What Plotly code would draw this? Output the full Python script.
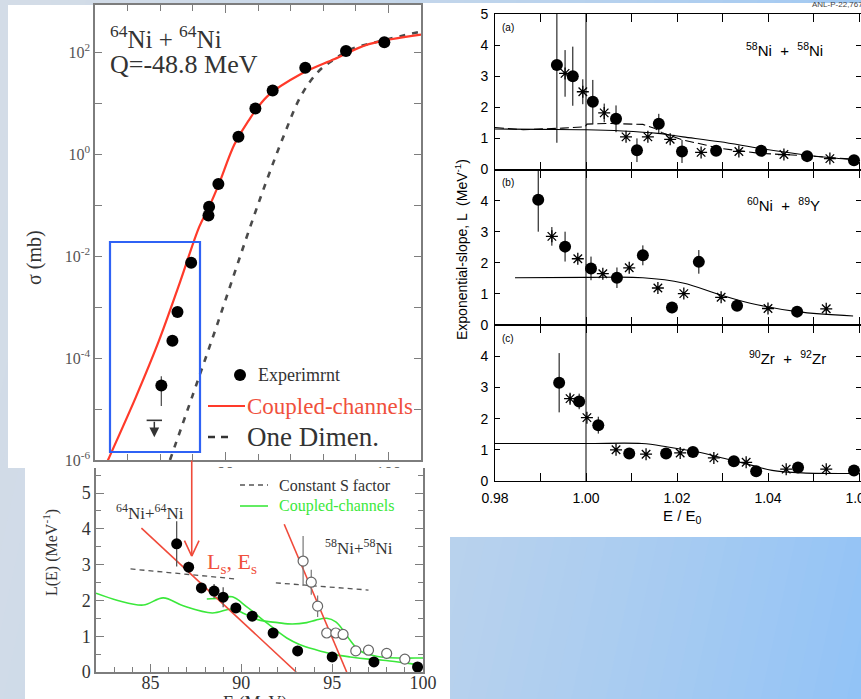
import math
import plotly.graph_objects as go

W, H = 861, 699
SERIF = "Liberation Serif, Times New Roman, serif"
SANS = "Liberation Sans, Arial, Helvetica, sans-serif"

# ---------------- 64Ni + 64Ni excitation function (top left) ----------------
exc_E = [99.75, 97.4, 94.9, 92.9, 91.84, 90.8, 89.57, 89.0, 88.96, 87.9, 87.06, 86.75, 86.07]
exc_sigma = [158, 106, 50, 17.8, 7.9, 2.2, 0.26, 0.093, 0.063, 0.0074, 8.0e-4, 2.2e-4, 2.9e-5]
exc_err_up = [0, 0, 0, 0, 0, 0, 0, 0, 0, 0, 0, 0, 1.5e-5]
exc_err_dn = [0, 0, 0, 0, 0, 0, 0, 0, 0, 0, 0, 0, 1.75e-5]
limit_E = 85.64
limit_sigma = 6.0e-6

cc_E = [82.5, 82.8, 84.5, 85.9, 87.2, 88.4, 89.0, 89.6, 90.55, 91.4, 92.6, 94.66, 96.7, 98.8, 102.0]
cc_sigma = [6.0e-7, 1.0e-6, 1.7e-5, 2.1e-4, 3.0e-3, 3.8e-2, 9.3e-2, 0.26, 1.55, 4.5, 14.0, 38, 74, 145, 224]

od_E = [86.6, 88.0, 89.5, 91.5, 92.6, 93.6, 94.66, 95.7, 96.7, 97.7, 99.75, 102.0]
od_sigma = [1.0e-6, 1.9e-5, 4.6e-4, 3.6e-2, 0.35, 2.4, 14.5, 42, 74, 115, 174, 257]

# ---------------- L(E) slopes (bottom left) ----------------
ni64_E = [86.44, 87.1, 87.8, 88.5, 89.0, 89.7, 90.6, 91.75, 93.1, 95.0, 97.3, 99.7]
ni64_L = [3.58, 2.93, 2.35, 2.26, 2.09, 1.79, 1.56, 1.09, 0.59, 0.42, 0.28, 0.14]
ni64_err = [0.63, 0.15, 0, 0.2, 0.28, 0, 0, 0, 0, 0, 0, 0]

ni58_E = [93.4, 93.85, 94.2, 94.7, 95.2, 95.6, 96.3, 97.0, 98.0, 99.0]
ni58_L = [3.1, 2.51, 1.84, 1.09, 1.09, 1.05, 0.59, 0.61, 0.52, 0.36]
ni58_err = [0.7, 0.35, 0.3, 0, 0, 0, 0, 0, 0, 0]

fit64_E = [84.5, 93.02]
fit64_L = [4.02, 0.0]
fit58_E = [92.36, 95.8]
fit58_L = [4.13, 0.0]

constS64_E = [83.9, 89.7]
constS64_L = [2.88, 2.6]
constS58_E = [91.9, 97.0]
constS58_L = [2.49, 2.29]

green64_E = [82.0, 83.2, 84.6, 85.7, 86.8, 88.4, 89.5, 90.2, 91.0, 92.0, 92.8, 93.6, 94.1, 94.7, 95.2, 95.6, 96.0, 96.5, 97.2, 97.8, 98.8, 99.8, 100.0]
green64_L = [2.2, 2.0, 1.87, 2.07, 1.85, 1.65, 1.76, 1.62, 1.45, 1.38, 1.34, 1.38, 1.45, 1.5, 1.4, 1.17, 0.88, 0.6, 0.47, 0.41, 0.39, 0.39, 0.39]
green58_E = [88.1, 88.8, 89.5, 90.3, 91.4, 92.5, 93.2, 94.1, 95.0, 96.0, 97.0, 97.8, 98.8, 99.8]
green58_L = [2.04, 2.06, 2.1, 1.82, 1.37, 0.95, 0.77, 0.62, 0.5, 0.42, 0.36, 0.33, 0.27, 0.2]

arrow_E = 87.27
arrow_L = 3.24

# ---------------- Exponential slopes vs E/E0 (right) ----------------
a_circ_x = [0.9936, 0.9971, 1.0015, 1.0066, 1.0112, 1.0160, 1.0211, 1.0286, 1.0385, 1.0486, 1.0589]
a_circ_y = [3.36, 3.0, 2.18, 1.63, 0.62, 1.47, 0.58, 0.6, 0.6, 0.43, 0.3]
a_circ_e = [2.5, 0.95, 0.7, 0.43, 0.38, 0.32, 0.37, 0, 0, 0, 0]
a_star_x = [0.9954, 0.9993, 1.0040, 1.0088, 1.0136, 1.0185, 1.0253, 1.0336, 1.0435, 1.0536]
a_star_y = [3.09, 2.5, 1.82, 1.05, 1.05, 0.97, 0.55, 0.58, 0.48, 0.35]
a_star_e = [0.75, 0.4, 0.3, 0, 0, 0, 0, 0, 0, 0]
a_solid_x = [0.98, 0.99, 1.0, 1.008, 1.0158, 1.0213, 1.0295, 1.0385, 1.0486, 1.0587]
a_solid_y = [1.3, 1.29, 1.28, 1.24, 1.16, 1.05, 0.89, 0.67, 0.46, 0.32]
a_dash_x = [0.98, 0.9862, 0.9949, 0.9998, 1.0002, 1.0053, 1.0125, 1.0150, 1.0169, 1.0213, 1.0295, 1.0382, 1.0486, 1.0587]
a_dash_y = [1.35, 1.28, 1.33, 1.37, 1.46, 1.48, 1.45, 1.33, 1.17, 0.95, 0.68, 0.52, 0.44, 0.33]

b_circ_x = [0.9895, 0.9954, 1.0011, 1.0068, 1.0125, 1.0189, 1.0248, 1.0332, 1.0464]
b_circ_y = [4.03, 2.52, 1.82, 1.52, 2.24, 0.56, 2.03, 0.62, 0.43]
b_circ_e = [1.03, 0.48, 0.38, 0.33, 0.32, 0.18, 0.38, 0, 0]
b_star_x = [0.9925, 0.9982, 1.0037, 1.0095, 1.0158, 1.0215, 1.0297, 1.0400, 1.0528]
b_star_y = [2.85, 2.13, 1.65, 1.84, 1.19, 1.01, 0.89, 0.53, 0.52]
b_star_e = [0.3, 0, 0, 0, 0, 0, 0, 0, 0]
b_solid_x = [0.9844, 1.0, 1.0125, 1.0213, 1.0295, 1.0361, 1.0464, 1.0587]
b_solid_y = [1.52, 1.53, 1.52, 1.35, 0.97, 0.7, 0.43, 0.29]

c_circ_x = [0.9941, 0.9985, 1.0027, 1.0095, 1.0176, 1.0235, 1.0325, 1.0374, 1.0466, 1.0589]
c_circ_y = [3.15, 2.55, 1.79, 0.88, 0.88, 0.93, 0.63, 0.31, 0.43, 0.34]
c_circ_e = [0.95, 0.25, 0.27, 0, 0, 0.08, 0, 0, 0, 0]
c_star_x = [0.9965, 1.0002, 1.0066, 1.0132, 1.0207, 1.0281, 1.0352, 1.0440, 1.0528]
c_star_y = [2.64, 2.03, 1.0, 0.86, 0.9, 0.74, 0.6, 0.38, 0.38]
c_star_e = [0.15, 0, 0, 0, 0, 0, 0, 0, 0]
c_solid_x = [0.98, 1.0, 1.0123, 1.0180, 1.0246, 1.0305, 1.0365, 1.0409, 1.0475, 1.0598]
c_solid_y = [1.2, 1.2, 1.2, 1.09, 0.93, 0.72, 0.5, 0.34, 0.26, 0.24]

right_xticks = [0.98, 0.99, 1.00, 1.01, 1.02, 1.03, 1.04, 1.05, 1.06]
right_xlabels = ["0.98", "", "1.00", "", "1.02", "", "1.04", "", "1.06"]


def px(x):
    return x / W


def py(y):
    return 1 - y / H


fig = go.Figure()

# ---- top-left traces ----
fig.add_trace(go.Scatter(x=od_E, y=od_sigma, mode="lines", line=dict(color="#4a4a4a", width=2.6, dash="6px,7px"),
                         line_shape="spline", xaxis="x", yaxis="y"))
fig.add_trace(go.Scatter(x=cc_E, y=cc_sigma, mode="lines", line=dict(color="#ff3a2a", width=2.2),
                         line_shape="spline", xaxis="x", yaxis="y"))
fig.add_trace(go.Scatter(x=exc_E, y=exc_sigma, mode="markers", xaxis="x", yaxis="y",
                         marker=dict(color="black", size=12),
                         error_y=dict(type="data", symmetric=False, array=exc_err_up, arrayminus=exc_err_dn,
                                      width=0, color="#555", thickness=1.3)))
fig.add_trace(go.Scatter(x=[limit_E], y=[limit_sigma], mode="markers", xaxis="x", yaxis="y",
                         marker=dict(symbol="line-ew-open", size=11, color="#333", line=dict(color="#333", width=1.6))))

# ---- bottom-left traces ----
bl = dict(xaxis="x2", yaxis="y2")
fig.add_trace(go.Scatter(x=constS64_E, y=constS64_L, mode="lines", line=dict(color="#555", width=1.3, dash="5px,4px"), **bl))
fig.add_trace(go.Scatter(x=constS58_E, y=constS58_L, mode="lines", line=dict(color="#555", width=1.3, dash="5px,4px"), **bl))
fig.add_trace(go.Scatter(x=green64_E, y=green64_L, mode="lines", line=dict(color="#3be83b", width=1.6), line_shape="spline", **bl))
fig.add_trace(go.Scatter(x=green58_E, y=green58_L, mode="lines", line=dict(color="#3be83b", width=1.6), line_shape="spline", **bl))
fig.add_trace(go.Scatter(x=fit64_E, y=fit64_L, mode="lines", line=dict(color="#f04a3a", width=1.6), **bl))
fig.add_trace(go.Scatter(x=fit58_E, y=fit58_L, mode="lines", line=dict(color="#f04a3a", width=1.6), **bl))
fig.add_trace(go.Scatter(x=ni58_E, y=ni58_L, mode="markers",
                         marker=dict(color="white", size=10, line=dict(color="#666", width=1.2)),
                         error_y=dict(type="data", array=ni58_err, width=0, color="#777", thickness=1.2), **bl))
fig.add_trace(go.Scatter(x=ni64_E, y=ni64_L, mode="markers", marker=dict(color="black", size=11),
                         error_y=dict(type="data", array=ni64_err, width=0, color="#555", thickness=1.3), **bl))

# ---- right panels ----
panels = [
    ("x3", "y3", a_circ_x, a_circ_y, a_circ_e, a_star_x, a_star_y, a_star_e, a_solid_x, a_solid_y),
    ("x4", "y4", b_circ_x, b_circ_y, b_circ_e, b_star_x, b_star_y, b_star_e, b_solid_x, b_solid_y),
    ("x5", "y5", c_circ_x, c_circ_y, c_circ_e, c_star_x, c_star_y, c_star_e, c_solid_x, c_solid_y),
]
for xa, ya, cx, cy, ce, sx, sy, se, lx, ly in panels:
    fig.add_trace(go.Scatter(x=lx, y=ly, mode="lines", line=dict(color="black", width=1.1), line_shape="spline",
                             xaxis=xa, yaxis=ya))
    if xa == "x3":
        fig.add_trace(go.Scatter(x=a_dash_x, y=a_dash_y, mode="lines", line=dict(color="black", width=1.1, dash="9px,4px"),
                                 xaxis=xa, yaxis=ya))
    fig.add_trace(go.Scatter(x=sx, y=sy, mode="markers", xaxis=xa, yaxis=ya, cliponaxis=True,
                             marker=dict(symbol="asterisk-open", size=10, color="black", line=dict(color="black", width=1.3)),
                             error_y=dict(type="data", array=se, width=0, color="black", thickness=1)))
    fig.add_trace(go.Scatter(x=cx, y=cy, mode="markers", xaxis=xa, yaxis=ya, cliponaxis=True,
                             marker=dict(color="black", size=12),
                             error_y=dict(type="data", array=ce, width=0, color="black", thickness=1)))

# ---------------- shapes: slide background and white panels ----------------
shapes = []
c_from = (211, 220, 231)
c_to = (146, 195, 246)
N = 60
for i in range(N):
    t0 = i / N * 1.02
    t1 = (i + 1) / N * 1.02 + 0.004
    tm = min(((t0 + t1) / 2) ** 1.6, 1.0)
    col = "rgb(%d,%d,%d)" % tuple(round(a + (b - a) * tm) for a, b in zip(c_from, c_to))
    xt0, xt1 = t0 / 0.85, t1 / 0.85
    xb0, xb1 = (t0 - 0.15) / 0.85, (t1 - 0.15) / 0.85
    shapes.append(dict(type="path", xref="paper", yref="paper", layer="below",
                       path=f"M {xt0},1 L {xt1},1 L {xb1},0 L {xb0},0 Z",
                       fillcolor=col, line=dict(width=0)))


def white_rect(x0, y0, x1, y1, layer="below"):
    return dict(type="rect", xref="paper", yref="paper", layer=layer,
                x0=px(x0), x1=px(x1), y0=py(y1), y1=py(y0), fillcolor="white", line=dict(width=0))


shapes.append(white_rect(8, 5, 861, 468))
shapes.append(white_rect(421, 3, 861, 537))
shapes.append(white_rect(25, 468, 450, 699))
# lower panel overlaps the bottom of the upper panel's tick labels
shapes.append(white_rect(200, 468, 415, 484, layer="above"))

# blue selection box on the low-energy part of the excitation function
shapes.append(dict(type="rect", xref="paper", yref="paper", layer="above",
                   x0=px(110), x1=px(200), y0=py(452), y1=py(242),
                   line=dict(color="#2f62f5", width=2.2), fillcolor="rgba(0,0,0,0)"))

# legend samples (top-left)
shapes.append(dict(type="circle", xref="paper", yref="paper", x0=px(234), x1=px(246), y0=py(381), y1=py(369),
                   fillcolor="black", line=dict(color="black", width=0)))
shapes.append(dict(type="line", xref="paper", yref="paper", x0=px(208), x1=px(245), y0=py(406), y1=py(406),
                   line=dict(color="#ff3a2a", width=2)))
shapes.append(dict(type="line", xref="paper", yref="paper", x0=px(208), x1=px(234), y0=py(437), y1=py(437),
                   line=dict(color="#333", width=2.4, dash="7px,6px")))
# legend samples (bottom-left)
shapes.append(dict(type="line", xref="paper", yref="paper", x0=px(240), x1=px(268), y0=py(485), y1=py(485),
                   line=dict(color="#555", width=1.3, dash="5px,4px")))
shapes.append(dict(type="line", xref="paper", yref="paper", x0=px(240), x1=px(268), y0=py(506), y1=py(506),
                   line=dict(color="#3be83b", width=1.6)))

# E/E0 = 1 reference line through all three right panels
shapes.append(dict(type="line", xref="x3", yref="paper", x0=1.0, x1=1.0, y0=py(481), y1=py(14),
                   line=dict(color="black", width=1)))

# ---------------- annotations ----------------
ann = []


def text(x, y, s, size, color="#333", family=SERIF, xanchor="center", yanchor="middle", angle=0):
    ann.append(dict(x=px(x), y=py(y), xref="paper", yref="paper", text=s, showarrow=False,
                    xanchor=xanchor, yanchor=yanchor, textangle=angle,
                    font=dict(family=family, size=size, color=color)))


# top-left
text(108, 37, "<sup>64</sup>Ni + <sup>64</sup>Ni", 25, xanchor="left")
text(108, 64, "Q=-48.8 MeV", 26, xanchor="left")
text(34, 258, "σ (mb)", 20, angle=-90)
text(256, 375, "Experimrnt", 18, xanchor="left")
text(245, 406, "Coupled-channels", 23, color="#f0503c", xanchor="left")
text(245, 437, "One Dimen.", 27, xanchor="left")
# upper-limit arrow
ann.append(dict(x=limit_E, y=math.log10(limit_sigma), xref="x", yref="y", text="", showarrow=True,
                ax=0, ay=-17, yshift=-17, arrowhead=2, arrowsize=1.3, arrowwidth=1.5, arrowcolor="#333"))

# bottom-left
text(150, 512, "<sup>64</sup>Ni+<sup>64</sup>Ni", 17)
text(359, 547, "<sup>58</sup>Ni+<sup>58</sup>Ni", 17)
text(277, 485, "Constant S factor", 16, xanchor="left")
text(277, 506, "Coupled-channels", 16, color="#3be83b", xanchor="left")
text(232, 563, "L<sub>s</sub>, E<sub>s</sub>", 22, color="#f0503c")
text(50, 553, "L(E) (MeV<sup>-1</sup>)", 16, angle=-90)
text(255, 691, "E (MeV)", 18, yanchor="top")
# arrow marking (Es, Ls)
for axx, ayy in [(0, -97), (-8, -17), (8, -17)]:
    ann.append(dict(x=arrow_E, y=arrow_L, xref="x2", yref="y2", text="", showarrow=True,
                    ax=axx, ay=ayy, arrowhead=0, arrowwidth=1.6, arrowcolor="#f04a3a"))

# right
text(508, 27, "(a)", 10, color="black", family=SANS)
text(508, 183, "(b)", 10, color="black", family=SANS)
text(508, 338, "(c)", 10, color="black", family=SANS)
text(784, 49, "<sup>58</sup>Ni  +  <sup>58</sup>Ni", 15, color="black", family=SANS)
text(783, 204, "<sup>60</sup>Ni  +  <sup>89</sup>Y", 15, color="black", family=SANS)
text(787, 357, "<sup>90</sup>Zr  +  <sup>92</sup>Zr", 15, color="black", family=SANS)
text(461, 250, "Exponential-slope, L  (MeV<sup>-1</sup>)", 14, color="black", family=SANS, angle=-90)
text(682, 516, "E / E<sub>0</sub>", 15, color="black", family=SANS)
text(810, 4, "ANL-P-22,767", 8, color="#444", family=SANS, xanchor="left")

# ---------------- axes ----------------
grey = "#7d7d7d"
tl_dec = [1e-6, 1e-5, 1e-4, 1e-3, 1e-2, 1e-1, 1, 10, 100]
tl_lab = ["10<sup>-6</sup>", "", "10<sup>-4</sup>", "", "10<sup>-2</sup>", "", "10<sup>0</sup>", "", "10<sup>2</sup>"]

layout_axes = dict(
    xaxis=dict(domain=[px(95), px(421)], range=[82, 102], anchor="y", showline=True, linecolor=grey, linewidth=1.5,
               mirror="ticks", ticks="inside", ticklen=8, tickcolor=grey, tickwidth=1.3,
               tickvals=[90, 100], ticktext=["90", "100"], showgrid=False, zeroline=False,
               ticklabelstandoff=-4,
               tickfont=dict(family=SERIF, size=17, color="#555"),
               minor=dict(tickvals=[84, 86, 88, 92, 94, 96, 98], ticks="inside", ticklen=6, tickcolor=grey)),
    yaxis=dict(domain=[py(460), py(5)], type="log", range=[-6, 2.93], anchor="x", showline=True, linecolor=grey,
               linewidth=1.5, mirror="ticks", ticks="inside", ticklen=7, tickcolor=grey, tickwidth=1.3,
               tickvals=tl_dec, ticktext=tl_lab, showgrid=False, zeroline=False,
               tickfont=dict(family=SERIF, size=16, color="#555")),
    xaxis2=dict(domain=[px(96), px(423)], range=[82, 100], anchor="y2", showline=True, linecolor=grey, linewidth=1.5,
                mirror=False, ticks="inside", ticklen=8, tickcolor=grey, tickwidth=1.3,
                tickvals=[85, 90, 95, 100], showgrid=False, zeroline=False, ticklabelstandoff=-6,
                tickfont=dict(family=SERIF, size=18, color="#333"),
                minor=dict(dtick=1, ticks="inside", ticklen=5, tickcolor=grey)),
    yaxis2=dict(domain=[py(672), py(468)], range=[0, 5.7], anchor="x2", showline=True, linecolor=grey, linewidth=1.5,
                mirror="ticks", ticks="inside", ticklen=8, tickcolor=grey, tickwidth=1.3,
                tickvals=[0, 1, 2, 3, 4, 5], showgrid=False, zeroline=False,
                tickfont=dict(family=SERIF, size=18, color="#333"),
                minor=dict(dtick=0.5, ticks="inside", ticklen=5, tickcolor=grey)),
)

right_dom = [(py(169.5), py(14)), (py(325), py(169.5)), (py(481), py(325))]
for i, dom in zip([3, 4, 5], right_dom):
    last = (i == 5)
    layout_axes[f"xaxis{i}"] = dict(domain=[px(495), 1.0], range=[0.98, 1.06044], anchor=f"y{i}",
                                    showline=True, linecolor="black", linewidth=1, mirror="ticks",
                                    ticks="inside", ticklen=8, tickcolor="black", tickwidth=1,
                                    tickvals=right_xticks,
                                    ticktext=right_xlabels if last else [""] * len(right_xticks),
                                    showgrid=False, zeroline=False, ticklabelstandoff=4,
                                    ticklabeloverflow="allow",
                                    tickfont=dict(family=SANS, size=14, color="black"))
    layout_axes[f"yaxis{i}"] = dict(domain=list(dom), range=[0, 5], anchor=f"x{i}",
                                    showline=True, linecolor="black", linewidth=1, mirror="ticks",
                                    ticks="inside", ticklen=5, tickcolor="black", tickwidth=1,
                                    tickvals=[0, 1, 2, 3, 4, 5],
                                    ticktext=["0", "1", "2", "3", "4", "5" if i == 3 else ""],
                                    showgrid=False, zeroline=False, ticklabelstandoff=3,
                                    tickfont=dict(family=SANS, size=14, color="black"))

# fixed panel geometry: no automatic margin growth from overflowing labels
for key in layout_axes:
    layout_axes[key]["automargin"] = False

fig.update_layout(
    width=W, height=H, margin=dict(l=0, r=0, t=0, b=0, autoexpand=False),
    paper_bgcolor="#bcd3ee", plot_bgcolor="rgba(0,0,0,0)",
    showlegend=False, shapes=shapes, annotations=ann, **layout_axes,
)

fig.write_html("out.html")
